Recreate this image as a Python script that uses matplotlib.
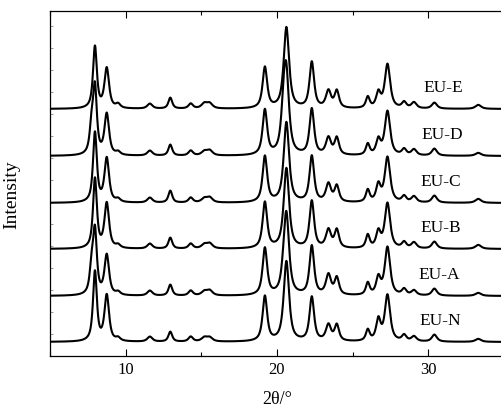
import numpy as np
import matplotlib
matplotlib.use("Agg")
import matplotlib.pyplot as plt
from matplotlib.ticker import MultipleLocator

plt.rcParams['font.family'] = ['Liberation Serif', 'DejaVu Serif']

# peak positions (2theta, deg) and widths (FWHM, deg)
peak_pos = [7.75, 7.97, 8.75, 9.5, 11.6, 12.95, 14.3, 15.2, 15.55, 19.2, 20.45, 20.62,
            22.3, 23.4, 23.95, 26.0, 26.7, 27.3, 28.4, 29.05, 30.4, 33.3]
peak_fwhm = [0.3, 0.3, 0.36, 0.35, 0.4, 0.3, 0.35, 0.45, 0.45, 0.36, 0.4, 0.42,
             0.36, 0.4, 0.35, 0.3, 0.35, 0.42, 0.35, 0.4, 0.4, 0.45]

samples = ["EU-N", "EU-A", "EU-B", "EU-C", "EU-D", "EU-E"]
offsets = [14, 60, 107, 153, 200, 247]

# peak heights per sample, same order as peak_pos
heights = {
    "EU-N": [0, 70, 46, 3, 5, 10, 5, 4, 4, 45, 0, 80, 44, 16, 16, 11, 21, 46, 6, 5, 7, 3],
    "EU-A": [25, 62, 40, 3, 5, 11, 5, 4, 5, 47, 10, 78, 49, 20, 17, 12, 17, 48, 6, 5, 7, 3],
    "EU-B": [0, 70, 45, 3, 5, 11, 5, 4, 5, 46, 0, 80, 47, 18, 18, 13, 16, 45, 6, 6, 7, 4],
    "EU-C": [0, 70, 44, 3, 5, 12, 5, 4, 5, 46, 0, 80, 46, 18, 16, 12, 17, 45, 6, 6, 7, 4],
    "EU-D": [26, 65, 41, 3, 5, 11, 5, 4, 5, 45, 38, 70, 46, 17, 17, 11, 15, 44, 6, 6, 7, 3],
    "EU-E": [0, 62, 40, 4, 5, 11, 5, 5, 5, 41, 0, 81, 46, 17, 17, 11, 15, 44, 6, 6, 6, 4],
}

label_x = [30.76, 30.7, 30.83, 30.83, 30.9, 30.96]


def pattern(x, h):
    y = np.zeros_like(x)
    for p, w, a in zip(peak_pos, peak_fwhm, h):
        lor = 1.0 / (1.0 + ((x - p) / (w / 2)) ** 2)
        gau = np.exp(-np.log(2) * ((x - p) / (w / 2)) ** 2)
        y += a * (0.8 * lor + 0.2 * gau)
    return y


two_theta = np.arange(5.0, 35.0, 0.02)

fig = plt.figure(figsize=(5.02, 4.10), dpi=100)
ax = fig.add_axes([50 / 502, 53 / 410, 454 / 502, 345 / 410])

for name, off, lx in zip(samples, offsets, label_x):
    ax.plot(two_theta, off + pattern(two_theta, heights[name]), color="black", lw=1.5)
    ax.text(lx, off + 22, name, ha="center", va="center", fontsize=12.5)

ax.set_xlim(5, 35)
ax.set_ylim(0, 345)
ax.xaxis.set_major_locator(MultipleLocator(10))
ax.xaxis.set_minor_locator(MultipleLocator(5))
ax.yaxis.set_major_locator(MultipleLocator(22))
ax.set_yticklabels([])
ax.tick_params(axis="x", which="major", direction="in", top=True, length=5, width=0.8, labelsize=12)
ax.tick_params(axis="x", which="minor", direction="in", top=True, length=3, width=0.8)
ax.tick_params(axis="y", direction="in", length=2, width=0.6, colors="#888888")
for s in ax.spines.values():
    s.set_linewidth(0.9)

ax.set_xlabel("2θ/°", fontsize=13)
ax.set_ylabel("Intensity", fontsize=14)
ax.xaxis.set_label_coords(0.5, -0.10)
ax.yaxis.set_label_coords(-0.065, 0.47)

fig.savefig("out.png", dpi=100)
